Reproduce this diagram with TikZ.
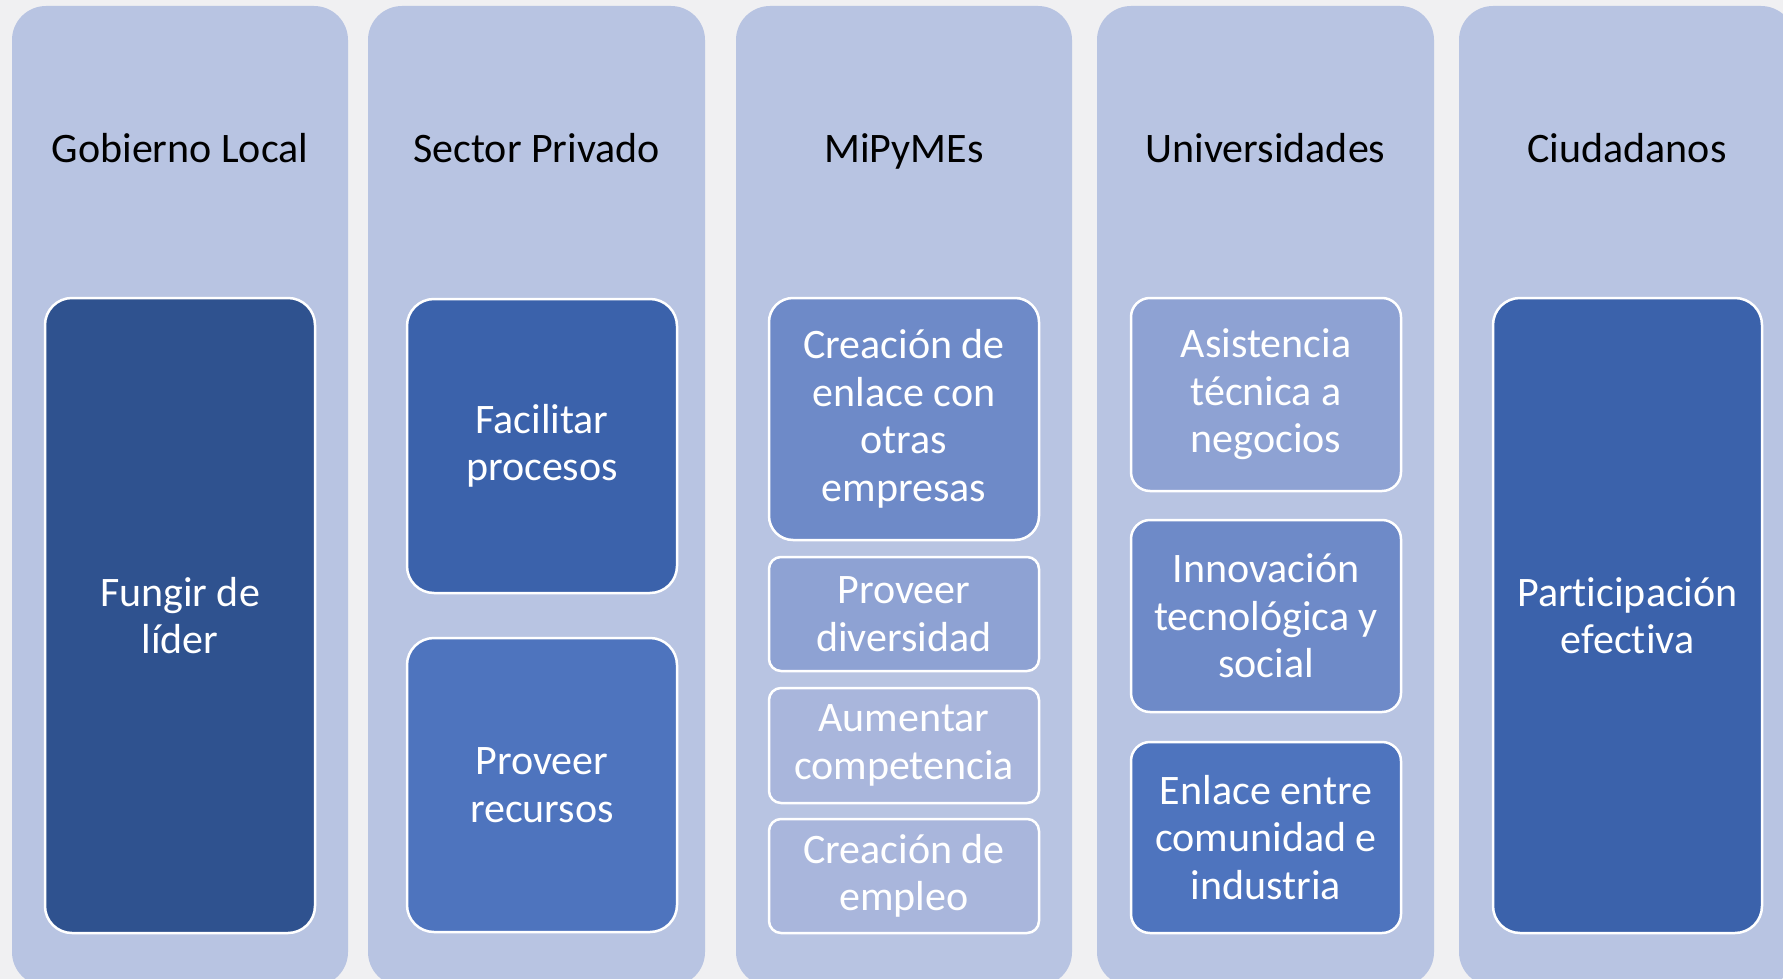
\documentclass[tikz,border=0pt]{standalone}
\usepackage{fontspec}
\setmainfont{Carlito}[Ligatures=NoCommon]
\definecolor{bgc}{HTML}{F0F0F2}
\definecolor{colc}{HTML}{B8C4E2}
\definecolor{dk}{HTML}{2F528F}
\definecolor{mda}{HTML}{3B62AB}
\definecolor{mdb}{HTML}{4E74BE}
\definecolor{lta}{HTML}{6E8AC8}
\definecolor{ltb}{HTML}{8EA2D3}
\definecolor{ltc}{HTML}{A9B6DC}
\tikzset{
  colbox/.style={fill=colc, draw=none, rounded corners=34pt, inner sep=0pt},
  headtxt/.style={font=\fontsize{42}{47.5}\selectfont, text=black, align=center, inner sep=0pt, anchor=base},
  inbox/.style={draw=white, line width=2.5pt, inner sep=0pt, text=white,
    align=center, font=\fontsize{42}{47.5}\selectfont},
}
\newcommand{\ibox}[8]{% name, x1, y1, x2, y2, fill, radius, text
  \node[inbox, fill=#6, rounded corners=#7pt,
        minimum width={#4-#2}, minimum height={#5-#3}]
        (#1) at ({(#2+#4)/2},{(#3+#5)/2}) {#8};}
\newcommand{\cbox}[4]{% name, x1, x2, header
  \node[colbox, minimum width={#3-#2}, minimum height=980pt]
        (#1) at ({(#2+#3)/2},496) {};
  \node[headtxt] (#1h) at ({(#2+#3)/2},163) {#4};}
\begin{document}
\begin{tikzpicture}[x=1pt,y=-1pt]
\clip (0,0) rectangle (1783,979);
\fill[bgc] (0,0) rectangle (1783,979);
\cbox{ca}{12}{348}{Gobierno Local}
\cbox{cb}{368}{705}{Sector Privado}
\cbox{cc}{736}{1072}{MiPyMEs}
\cbox{cd}{1097}{1434}{Universidades}
\cbox{ce}{1459}{1795}{Ciudadanos}
% column 1
\ibox{a1}{45}{298}{315}{933}{dk}{27}{Fungir de\\líder}
% column 2
\ibox{b1}{407}{299}{677}{593}{mda}{27}{Facilitar\\procesos}
\ibox{b2}{407}{638}{677}{932}{mdb}{27}{Proveer\\recursos}
% column 3
\ibox{c1}{769}{298}{1039}{540}{lta}{24}{Creación de\\enlace con\\otras\\empresas}
\ibox{c2}{769}{557}{1039}{671}{ltb}{12}{Proveer\\diversidad}
\ibox{c3}{769}{688}{1039}{803}{ltc}{12}{Aumentar\\competencia}
\ibox{c4}{769}{819}{1039}{933}{ltc}{12}{Creación de\\empleo}
% column 4
\ibox{d1}{1131}{298}{1401}{491}{ltb}{19}{Asistencia\\técnica a\\negocios}
\ibox{d2}{1131}{520}{1401}{712}{lta}{19}{Innovación\\tecnológica y\\social}
\ibox{d3}{1131}{742}{1401}{933}{mdb}{19}{Enlace entre\\comunidad e\\industria}
% column 5
\ibox{e1}{1493}{298}{1762}{933}{mda}{27}{Participación\\efectiva}
\end{tikzpicture}
\end{document}
